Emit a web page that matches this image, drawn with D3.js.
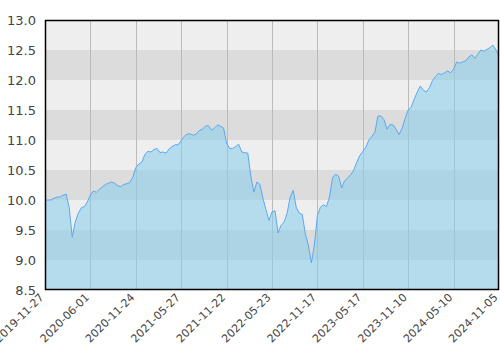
<!DOCTYPE html>
<html>
<head>
<meta charset="utf-8">
<script src="https://cdn.jsdelivr.net/npm/d3@7"></script>
<style>
  body { margin: 0; background: #fff; }
  svg { display: block; font-family: "DejaVu Sans", sans-serif; }
</style>
</head>
<body>
<svg width="500" height="350"></svg>
<script>
var values = [
  10.00, 10.00, 10.00, 10.03, 10.05, 10.05, 10.08, 10.10, 9.87, 9.38,
  9.63, 9.78, 9.87, 9.89, 9.97, 10.08, 10.15, 10.13, 10.18, 10.22,
  10.26, 10.28, 10.30, 10.28, 10.24, 10.22, 10.26, 10.27, 10.29, 10.38,
  10.54, 10.60, 10.63, 10.76, 10.81, 10.80, 10.84, 10.86, 10.79, 10.80,
  10.78, 10.85, 10.89, 10.92, 10.92, 10.99, 11.06, 11.10, 11.10, 11.08,
  11.10, 11.16, 11.18, 11.23, 11.24, 11.16, 11.20, 11.25, 11.23, 11.20,
  10.95, 10.86, 10.86, 10.89, 10.93, 10.80, 10.79, 10.78, 10.40, 10.13,
  10.30, 10.26, 10.03, 9.84, 9.66, 9.80, 9.82, 9.45, 9.58, 9.63,
  9.78, 10.05, 10.16, 9.88, 9.78, 9.76, 9.44, 9.25, 8.95, 9.25,
  9.74, 9.88, 9.92, 9.89, 10.05, 10.37, 10.43, 10.40, 10.20, 10.32,
  10.37, 10.42, 10.50, 10.63, 10.74, 10.81, 10.88, 11.00, 11.06, 11.13,
  11.40, 11.40, 11.34, 11.18, 11.26, 11.25, 11.18, 11.09, 11.20, 11.36,
  11.50, 11.55, 11.68, 11.80, 11.90, 11.83, 11.80, 11.87, 11.99, 12.06,
  12.11, 12.09, 12.12, 12.15, 12.12, 12.18, 12.30, 12.28, 12.30, 12.32,
  12.38, 12.42, 12.36, 12.43, 12.50, 12.48, 12.51, 12.54, 12.58, 12.50,
  12.40
];

var tickIndex = [0, 15, 30, 45, 60, 75, 90, 105, 120, 135, 150];
var tickLabels = ['2019-11-27', '2020-06-01', '2020-11-24', '2021-05-27', '2021-11-22',
                  '2022-05-23', '2022-11-17', '2023-05-17', '2023-11-10', '2024-05-10', '2024-11-05'];
var yTicks = [8.5, 9.0, 9.5, 10.0, 10.5, 11.0, 11.5, 12.0, 12.5, 13.0];

var svg = d3.select('svg');
var margin = {top: 20, right: 1, bottom: 60, left: 45};
var width = 500 - margin.left - margin.right;
var height = 350 - margin.top - margin.bottom;

var g = svg.append('g')
  .attr('transform', 'translate(' + margin.left + ',' + margin.top + ')');

var x = d3.scaleLinear()
  .domain([0, values.length - 1])
  .range([0, width]);

var y = d3.scaleLinear()
  .domain([8.5, 13.0])
  .range([height, 0]);

// alternating bands
g.selectAll('rect.band')
  .data(yTicks.slice(0, -1))
  .enter()
  .append('rect')
  .attr('class', 'band')
  .attr('x', 0)
  .attr('width', width)
  .attr('y', function(d){ return y(d + 0.5); })
  .attr('height', function(d){ return y(d) - y(d + 0.5); })
  .attr('fill', function(d, i){ return i % 2 === 0 ? '#eeeeee' : '#dcdcdc'; });

// vertical grid
g.selectAll('line.grid')
  .data(tickIndex.slice(1, -1))
  .enter()
  .append('line')
  .attr('class', 'grid')
  .attr('x1', function(d){ return Math.round(x(d)) + 0.5; })
  .attr('x2', function(d){ return Math.round(x(d)) + 0.5; })
  .attr('y1', 0)
  .attr('y2', height)
  .attr('stroke', '#bbbbbb')
  .attr('stroke-width', 1);

var area = d3.area()
  .x(function(d, i){ return x(i); })
  .y0(height)
  .y1(function(d){ return y(d); });

var line = d3.line()
  .x(function(d, i){ return x(i); })
  .y(function(d){ return y(d); });

g.append('path')
  .datum(values)
  .attr('d', area)
  .attr('fill', 'rgb(135,206,235)')
  .attr('fill-opacity', 0.55);

g.append('path')
  .datum(values)
  .attr('d', line)
  .attr('fill', 'none')
  .attr('stroke', '#5aa9f0')
  .attr('stroke-width', 1);

// frame
g.append('rect')
  .attr('x', 0.5)
  .attr('y', 0.5)
  .attr('width', width - 1)
  .attr('height', height - 1)
  .attr('fill', 'none')
  .attr('stroke', '#000')
  .attr('stroke-width', 1.5);

// y axis labels
var yAxis = d3.axisLeft(y)
  .tickValues(yTicks)
  .tickFormat(d3.format('.1f'))
  .tickSize(0)
  .tickPadding(9);

var ya = g.append('g').call(yAxis);
ya.select('.domain').remove();
ya.selectAll('text')
  .attr('font-size', 13)
  .attr('font-family', '"DejaVu Sans", sans-serif')
  .attr('fill', '#444');

// x axis labels
var xAxis = d3.axisBottom(x)
  .tickValues(tickIndex)
  .tickFormat(function(d, i){ return tickLabels[i]; })
  .tickSize(0)
  .tickPadding(0);

var xa = g.append('g')
  .attr('transform', 'translate(0,' + height + ')')
  .call(xAxis);
xa.select('.domain').remove();
xa.selectAll('text')
  .attr('font-size', 11)
  .attr('font-family', '"DejaVu Sans", sans-serif')
  .attr('fill', '#444')
  .attr('text-anchor', 'end')
  .attr('dy', 0)
  .attr('transform', 'translate(-1,8) rotate(-45)');
</script>
</body>
</html>
